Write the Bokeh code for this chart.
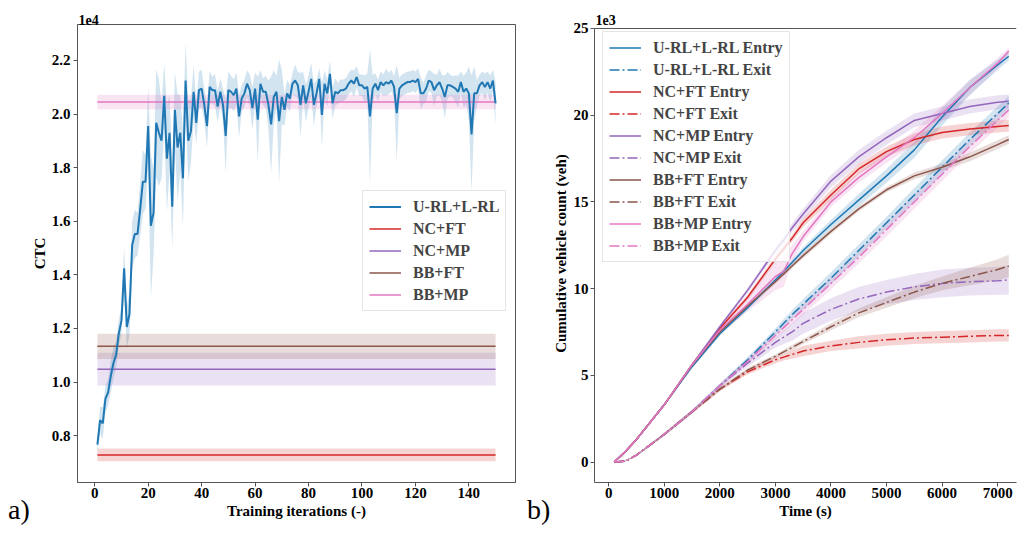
from bokeh.plotting import figure
from bokeh.models import (Legend, LegendItem, Title, FixedTicker, NumeralTickFormatter,
                          Range1d, Div, Span)
from bokeh.layouts import row, column
from bokeh.embed import file_html
from bokeh.resources import INLINE
import numpy as np

FONT = "Liberation Serif"
SPINE = "#555555"
BLUE, RED, PURPLE, BROWN, PINK = "#1f77b4", "#d62728", "#9467bd", "#8c564b", "#e377c2"

# ---------------- (a) CTC vs training iterations (values in units of 1e4) ----------------
iterations = list(range(1, 151))
urll_ctc = [
    0.766, 0.858, 0.846, 0.937, 0.961, 1.022, 1.071, 1.101, 1.181, 1.229,
    1.424, 1.205, 1.254, 1.510, 1.552, 1.552, 1.644, 1.747, 1.747, 1.955,
    1.583, 1.632, 1.967, 1.930, 1.900, 2.068, 1.833, 1.930, 1.654, 2.016,
    1.875, 1.930, 1.760, 2.125, 1.900, 1.936, 2.083, 1.967, 2.089, 2.095,
    2.034, 1.955, 2.101, 2.089, 2.089, 2.028, 2.083, 2.034, 1.918, 2.089,
    2.083, 2.070, 2.095, 1.991, 2.058, 2.077, 2.113, 2.089, 2.022, 2.095,
    1.979, 2.113, 2.083, 2.083, 2.034, 1.961, 2.064, 2.083, 1.973, 2.064,
    2.016, 2.077, 2.058, 2.113, 2.125, 2.107, 2.034, 2.107, 2.040, 2.083,
    2.131, 2.034, 2.077, 2.131, 1.997, 2.113, 2.077, 2.150, 2.040, 2.083,
    2.077, 2.089, 2.089, 2.095, 2.113, 2.125, 2.113, 2.138, 2.107, 2.107,
    2.095, 2.101, 1.991, 2.095, 2.113, 2.089, 2.119, 2.107, 2.119, 2.113,
    2.125, 2.101, 2.003, 2.095, 2.107, 2.113, 2.119, 2.119, 2.125, 2.119,
    2.131, 2.077, 2.077, 2.095, 2.125, 2.119, 2.089, 2.107, 2.119, 2.095,
    2.064, 2.107, 2.107, 2.101, 2.095, 2.083, 2.119, 2.083, 2.095, 2.077,
    1.924, 2.077, 2.077, 2.107, 2.119, 2.101, 2.119, 2.095, 2.125, 2.040,
]
urll_ctc_std = [
    .03, .05, .06, .05, .05, .06, .06, .05, .05, .05,
    .08, .08, .08, .09, .09, .08, .10, .12, .10, .15,
    .27, .16, .20, .20, .14, .12, .20, .14, .16, .14,
    .20, .14, .18, .14, .15, .12, .10, .08, .07, .07,
    .06, .08, .06, .05, .06, .06, .05, .06, .14, .07,
    .06, .06, .06, .08, .05, .05, .05, .06, .08, .06,
    .16, .05, .05, .06, .09, .18, .10, .06, .23, .10,
    .06, .05, .05, .04, .06, .05, .12, .05, .07, .06,
    .06, .08, .05, .04, .12, .05, .05, .05, .06, .05,
    .04, .04, .04, .04, .04, .04, .05, .04, .04, .04,
    .05, .05, .25, .05, .04, .04, .04, .04, .05, .04,
    .04, .04, .18, .04, .04, .04, .04, .04, .04, .04,
    .04, .06, .04, .05, .04, .04, .06, .04, .05, .05,
    .08, .05, .04, .04, .05, .06, .04, .06, .06, .10,
    .22, .10, .05, .04, .04, .05, .04, .05, .04, .08,
]
baseline_names = ["NC+FT", "NC+MP", "BB+FT", "BB+MP"]
baseline_ctc = [0.728, 1.048, 1.133, 2.045]
baseline_std = [0.024, 0.061, 0.047, 0.027]
baseline_colors = [RED, PURPLE, BROWN, PINK]

# ---------------- (b) cumulative vehicle count (values in units of 1e3) ----------------
time_s = [100, 300, 500, 1000, 1500, 2000, 2500, 3000, 3150, 3300, 3500, 4000, 4500,
          5000, 5500, 6000, 6500, 7000, 7200]
series_names = ["U-RL+L-RL Entry", "U-RL+L-RL Exit", "NC+FT Entry", "NC+FT Exit",
                "NC+MP Entry", "NC+MP Exit", "BB+FT Entry", "BB+FT Exit",
                "BB+MP Entry", "BB+MP Exit"]
urll_entry = [0, 0.6, 1.3, 3.3, 5.5, 7.4, 8.9, 10.5, 11.0, 11.5, 12.2, 13.7, 15.1, 16.5, 18.0, 19.9, 21.6, 22.9, 23.4]
urll_exit = [0, 0.05, 0.4, 1.6, 2.9, 4.4, 5.9, 7.5, 8.0, 8.5, 9.1, 10.6, 12.2, 13.8, 15.4, 17.0, 18.6, 20.1, 20.7]
ncft_entry = [0, 0.6, 1.3, 3.3, 5.6, 7.7, 9.5, 11.7, 12.3, 12.9, 13.8, 15.4, 16.9, 17.9, 18.6, 19.0, 19.2, 19.35, 19.4]
ncft_exit = [0, 0.05, 0.4, 1.6, 2.9, 4.2, 5.2, 5.9, 6.05, 6.2, 6.4, 6.7, 6.9, 7.05, 7.15, 7.2, 7.25, 7.3, 7.3]
ncmp_entry = [0, 0.6, 1.3, 3.3, 5.6, 7.8, 9.9, 12.2, 12.8, 13.5, 14.3, 16.2, 17.6, 18.7, 19.7, 20.1, 20.5, 20.75, 20.8]
ncmp_exit = [0, 0.05, 0.4, 1.6, 2.9, 4.4, 5.7, 6.9, 7.2, 7.5, 8.0, 8.8, 9.4, 9.8, 10.1, 10.3, 10.4, 10.45, 10.5]
bbft_entry = [0, 0.6, 1.3, 3.3, 5.6, 7.5, 9.0, 10.4, 10.85, 11.3, 11.9, 13.3, 14.6, 15.7, 16.5, 17.0, 17.6, 18.3, 18.6]
bbft_exit = [0, 0.05, 0.4, 1.6, 2.9, 4.2, 5.3, 6.1, 6.35, 6.6, 6.95, 7.8, 8.6, 9.2, 9.8, 10.3, 10.7, 11.1, 11.3]
bbmp_entry = [0, 0.6, 1.3, 3.3, 5.6, 7.6, 9.1, 10.7, 11.0, 12.0, 13.0, 15.0, 16.4, 17.6, 18.7, 20.1, 21.6, 23.0, 23.7]
bbmp_exit = [0, 0.05, 0.4, 1.6, 2.9, 4.4, 5.8, 7.3, 7.75, 8.2, 8.8, 10.3, 11.8, 13.4, 15.0, 16.6, 18.2, 19.7, 20.3]

urll_entry_std = [0, .02, .05, .08, .1, .12, .15, .15, .15, .15, .2, .25, .35, .4, .45, .5, .45, .3, .25]
urll_exit_std = [0, .02, .05, .08, .1, .12, .15, .2, .25, .25, .3, .35, .35, .35, .4, .4, .4, .4, .4]
ncft_entry_std = [0, .02, .05, .08, .1, .12, .15, .2, .2, .2, .25, .3, .3, .3, .35, .35, .35, .35, .35]
ncft_exit_std = [0, .02, .05, .08, .1, .1, .15, .2, .2, .25, .3, .3, .35, .35, .35, .35, .35, .35, .35]
ncmp_entry_std = [0, .02, .05, .08, .1, .12, .15, .2, .2, .25, .3, .35, .4, .4, .4, .4, .4, .4, .4]
ncmp_exit_std = [0, .02, .05, .08, .1, .12, .2, .3, .4, .5, .6, .65, .7, .7, .75, .8, .8, .8, .85]
bbft_entry_std = [0, .02, .05, .08, .1, .1, .12, .12, .12, .12, .15, .15, .15, .15, .2, .2, .25, .25, .25]
bbft_exit_std = [0, .02, .05, .08, .1, .1, .12, .12, .12, .15, .15, .2, .25, .3, .35, .4, .5, .6, .65]
bbmp_entry_std = [0, .02, .05, .08, .1, .2, .4, .8, .9, .5, .3, .3, .3, .35, .4, .45, .4, .3, .2]
bbmp_exit_std = [0, .02, .05, .08, .1, .12, .15, .2, .25, .25, .3, .35, .35, .4, .4, .4, .4, .4, .4]

series_values = [urll_entry, urll_exit, ncft_entry, ncft_exit, ncmp_entry, ncmp_exit,
                 bbft_entry, bbft_exit, bbmp_entry, bbmp_exit]
series_std = [urll_entry_std, urll_exit_std, ncft_entry_std, ncft_exit_std, ncmp_entry_std,
              ncmp_exit_std, bbft_entry_std, bbft_exit_std, bbmp_entry_std, bbmp_exit_std]
series_colors = [BLUE, BLUE, RED, RED, PURPLE, PURPLE, BROWN, BROWN, PINK, PINK]

ctc_ticks = [0.8, 1.0, 1.2, 1.4, 1.6, 1.8, 2.0, 2.2]
iter_ticks = [0, 20, 40, 60, 80, 100, 120, 140]
count_ticks = [0, 5, 10, 15, 20, 25]
time_ticks = [0, 1000, 2000, 3000, 4000, 5000, 6000, 7000]


def style_axis(ax):
    ax.axis_line_color = SPINE
    ax.major_tick_line_color = SPINE
    ax.major_tick_out = 4
    ax.major_tick_in = 0
    ax.minor_tick_line_color = None
    ax.minor_tick_out = 0
    ax.minor_tick_in = 0
    ax.major_label_text_font = FONT
    ax.major_label_text_font_style = "bold"
    ax.major_label_text_font_size = "15px"
    ax.major_label_text_color = "black"
    ax.major_label_text_line_height = 1.0
    ax.axis_label_text_font = FONT
    ax.axis_label_text_font_style = "bold"
    ax.axis_label_text_font_size = "15px"
    ax.axis_label_text_color = "black"
    ax.axis_label_text_line_height = 1.0


def style_legend(lg):
    lg.label_text_font = FONT
    lg.label_text_font_style = "bold"
    lg.label_text_font_size = "16px"
    lg.glyph_width = 32
    lg.glyph_height = 19
    lg.label_height = 19
    lg.label_standoff = 12
    lg.spacing = 3
    lg.padding = 6
    lg.border_line_color = "#cccccc"
    lg.background_fill_alpha = 0.8


def offset_title(text, off):
    return Title(text=text, align="left", offset=off, standoff=0, text_font=FONT,
                 text_font_style="bold", text_font_size="14px", text_color="black",
                 text_line_height=1.0)


# ---------------- left figure ----------------
p1 = figure(width=545, height=526, output_backend="svg", toolbar_location=None,
            x_range=Range1d(-6.45, 157.45), y_range=Range1d(0.625, 2.334),
            min_border_left=77, min_border_right=30, min_border_top=24, min_border_bottom=44)
p1.grid.visible = False
p1.outline_line_color = SPINE
xa1, ya1 = p1.below[0], p1.left[0]
style_axis(xa1)
style_axis(ya1)
xa1.axis_label = "Training iterations (-)"
ya1.axis_label = "CTC"
xa1.major_label_standoff = 1
xa1.axis_label_standoff = 2
ya1.major_label_standoff = 3
ya1.axis_label_standoff = 1
xa1.ticker = FixedTicker(ticks=iter_ticks)
ya1.ticker = FixedTicker(ticks=ctc_ticks)
ya1.formatter = NumeralTickFormatter(format="0.0")

m = np.array(urll_ctc)
s = np.array(urll_ctc_std)
p1.varea(x=iterations, y1=m - s, y2=m + s, fill_color=BLUE, fill_alpha=0.2)
x_ends = [iterations[0], iterations[-1]]
for v, sd, c in zip(baseline_ctc, baseline_std, baseline_colors):
    p1.varea(x=x_ends, y1=[v - sd] * 2, y2=[v + sd] * 2, fill_color=c, fill_alpha=0.2)
base_renderers = [p1.line(x=x_ends, y=[v, v], line_color=c, line_width=1.5)
                  for v, c in zip(baseline_ctc, baseline_colors)]
r_urll = p1.line(x=iterations, y=urll_ctc, line_color=BLUE, line_width=2)

lg1 = Legend(items=[LegendItem(label="U-RL+L-RL", renderers=[r_urll])] +
             [LegendItem(label=n, renderers=[r]) for n, r in zip(baseline_names, base_renderers)],
             location=(285, 171))
style_legend(lg1)
p1.add_layout(lg1)
p1.add_layout(offset_title("1e4", 1), "above")

# ---------------- right figure ----------------
count_top = count_ticks[-1]
p2 = figure(width=472, height=526, output_backend="svg", toolbar_location=None,
            x_range=Range1d(-255, 7339), y_range=Range1d(-1.18, 25.23),
            min_border_left=49, min_border_right=1, min_border_top=24, min_border_bottom=44)
p2.grid.visible = False
p2.outline_line_color = None
xa2, ya2 = p2.below[0], p2.left[0]
style_axis(xa2)
style_axis(ya2)
xa2.axis_label = "Time (s)"
ya2.axis_label = "Cumulative vehicle count (veh)"
xa2.major_label_standoff = 1
xa2.axis_label_standoff = 2
ya2.major_label_standoff = 2
ya2.axis_label_standoff = 2
xa2.ticker = FixedTicker(ticks=time_ticks)
ya2.ticker = FixedTicker(ticks=count_ticks)
ya2.bounds = (-1.18, count_top)
p2.add_layout(Span(location=count_top, dimension="width", line_color=SPINE, line_width=1))
p2.add_layout(offset_title("1e3", 1), "above")

for vals, sd, c in zip(series_values, series_std, series_colors):
    v = np.array(vals)
    d = np.array(sd)
    p2.varea(x=time_s, y1=v - d, y2=v + d, fill_color=c, fill_alpha=0.2)
items = []
for name, vals, c in zip(series_names, series_values, series_colors):
    dash = "solid" if name.endswith("Entry") else "10 3 2 3"
    r = p2.line(x=time_s, y=vals, line_color=c, line_width=1.5, line_dash=dash)
    items.append(LegendItem(label=name, renderers=[r]))
lg2 = Legend(items=items, location=(8, 220))
style_legend(lg2)
p2.add_layout(lg2)

# ---------------- panel letters ----------------
span_style = "font-family:'Liberation Serif';font-size:28px;color:black;line-height:32px;white-space:nowrap"
lab_a = Div(text=f'<span style="{span_style};padding-left:8px">a)</span>', width=527, height=32,
            margin=0)
lab_b = Div(text=f'<span style="{span_style}">b)</span>', width=480, height=32, margin=0)
letters = row(lab_a, lab_b, margin=(-32, 0, 0, 0))

layout = column(row(p1, p2), letters)
open("out.html", "w").write(file_html(layout, INLINE))
